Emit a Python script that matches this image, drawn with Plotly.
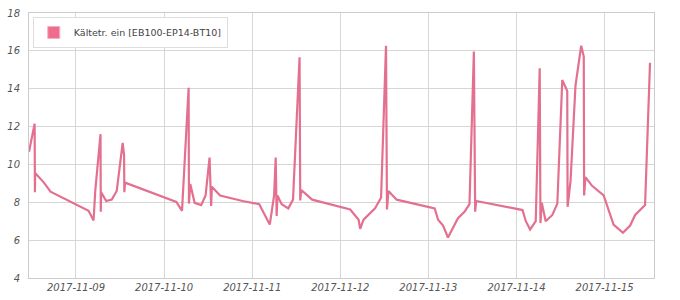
import plotly.graph_objects as go

times = [
    "2017-11-08 11:12", "2017-11-08 12:44", "2017-11-08 12:49", "2017-11-08 12:52",
    "2017-11-08 15:16", "2017-11-08 17:04", "2017-11-09 03:26", "2017-11-09 04:47",
    "2017-11-09 05:15", "2017-11-09 06:41", "2017-11-09 06:45", "2017-11-09 06:52",
    "2017-11-09 08:14", "2017-11-09 09:45", "2017-11-09 11:06", "2017-11-09 12:43",
    "2017-11-09 13:06", "2017-11-09 13:10", "2017-11-09 13:22", "2017-11-10 03:20",
    "2017-11-10 04:53", "2017-11-10 06:41", "2017-11-10 06:46", "2017-11-10 07:08",
    "2017-11-10 08:19", "2017-11-10 10:06", "2017-11-10 11:18", "2017-11-10 12:23",
    "2017-11-10 12:49", "2017-11-10 13:00", "2017-11-10 15:15", "2017-11-10 21:23",
    "2017-11-11 01:55", "2017-11-11 04:47", "2017-11-11 05:58", "2017-11-11 06:24",
    "2017-11-11 06:40", "2017-11-11 06:52", "2017-11-11 08:02", "2017-11-11 09:50",
    "2017-11-11 11:07", "2017-11-11 12:54", "2017-11-11 13:05", "2017-11-11 13:22",
    "2017-11-11 16:20", "2017-11-12 02:42", "2017-11-12 04:59", "2017-11-12 05:25",
    "2017-11-12 06:20", "2017-11-12 09:28", "2017-11-12 11:06", "2017-11-12 12:27",
    "2017-11-12 12:43", "2017-11-12 13:06", "2017-11-12 15:21", "2017-11-13 01:43",
    "2017-11-13 02:38", "2017-11-13 03:59", "2017-11-13 05:20", "2017-11-13 08:03",
    "2017-11-13 09:50", "2017-11-13 11:11", "2017-11-13 12:23", "2017-11-13 12:44",
    "2017-11-13 13:00", "2017-11-14 01:38", "2017-11-14 02:32", "2017-11-14 03:42",
    "2017-11-14 05:14", "2017-11-14 06:19", "2017-11-14 06:31", "2017-11-14 06:52",
    "2017-11-14 07:57", "2017-11-14 09:46", "2017-11-14 11:07", "2017-11-14 12:28",
    "2017-11-14 13:49", "2017-11-14 13:55", "2017-11-14 14:43", "2017-11-14 16:04",
    "2017-11-14 17:37", "2017-11-14 18:19", "2017-11-14 18:25", "2017-11-14 18:46",
    "2017-11-14 20:35", "2017-11-14 23:44", "2017-11-15 02:26", "2017-11-15 04:59",
    "2017-11-15 06:57", "2017-11-15 08:19", "2017-11-15 11:01", "2017-11-15 12:22",
]

values = [
    10.67, 12.15, 8.53, 9.55,
    9.04, 8.56, 7.55, 7.04,
    8.6, 11.6, 7.5, 8.53,
    8.07, 8.14, 8.6, 11.14,
    10.5, 8.53, 9.04, 8.02,
    7.55, 14.05, 7.93, 8.96,
    7.97, 7.85, 8.36, 10.36,
    7.8, 8.82, 8.36, 8.07,
    7.9, 6.82, 8.36, 10.36,
    7.28, 8.36, 7.9, 7.68,
    8.14, 15.66, 8.1, 8.65,
    8.14, 7.62, 7.08, 6.6,
    7.08, 7.68, 8.24, 16.27,
    7.62, 8.6, 8.14, 7.68,
    7.08, 6.77, 6.14, 7.16,
    7.5, 7.9, 15.96, 7.5,
    8.07, 7.59, 7.0, 6.56,
    7.0, 15.08, 6.9, 7.97,
    7.0, 7.33, 7.93, 14.46,
    13.88, 7.76, 9.13, 14.17,
    16.27, 15.7, 8.36, 9.33,
    8.87, 8.36, 6.82, 6.39,
    6.77, 7.33, 7.85, 15.37,
]

series_name = "Kältetr. ein [EB100-EP14-BT10]"
x_range = ["2017-11-08 11:12", "2017-11-15 13:27"]
y_ticks = [4, 6, 8, 10, 12, 14, 16, 18]

line_color = "#e4708f"
swatch_color = "#f06c8c"

fig = go.Figure()
fig.add_trace(go.Scatter(
    x=times, y=values, mode="lines",
    line=dict(color=line_color, width=2.2),
    showlegend=False, hoverinfo="skip",
))
fig.add_trace(go.Bar(
    x=[None], y=[None], name=series_name,
    marker=dict(color=swatch_color, line=dict(color="#f4b0c0", width=1)),
    showlegend=True,
))

tick_font = dict(family="DejaVu Sans", size=10, color="#555", style="italic")

fig.update_layout(
    width=680, height=300,
    margin=dict(l=25, r=26, t=7, b=20),
    paper_bgcolor="white", plot_bgcolor="white",
    showlegend=True,
    legend=dict(
        x=0.006, y=0.985, xanchor="left", yanchor="top",
        bgcolor="white", bordercolor="#dddddd", borderwidth=1,
        font=dict(family="DejaVu Sans", size=9.5, color="#444"),
        itemwidth=30,
    ),
    xaxis=dict(
        type="date", range=x_range,
        tickformat="%Y-%m-%d", dtick=86400000,
        showgrid=True, gridcolor="#d6d6d6", gridwidth=1,
        showline=True, linecolor="#cccccc", mirror=True,
        ticks="", tickfont=tick_font,
        zeroline=False,
    ),
    yaxis=dict(
        range=[4, 18], tickvals=y_ticks,
        showgrid=True, gridcolor="#d6d6d6", gridwidth=1,
        showline=True, linecolor="#cccccc", mirror=True,
        ticks="", tickfont=tick_font, ticklabelstandoff=6,
        zeroline=False,
    ),
)

fig.write_html("out.html")
